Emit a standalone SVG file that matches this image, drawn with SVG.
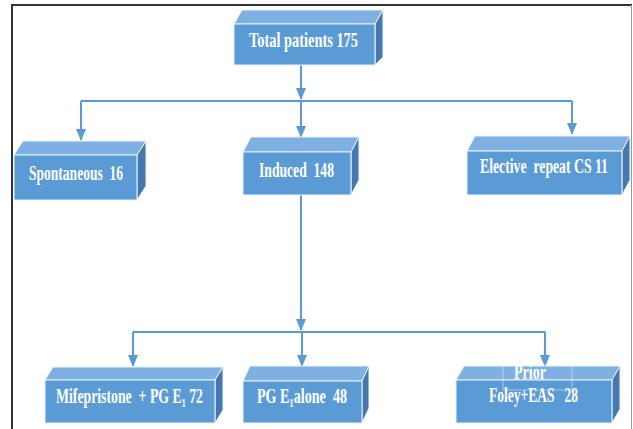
<svg xmlns="http://www.w3.org/2000/svg" width="633" height="429" viewBox="0 0 633 429">
<defs>
<style>
.front{fill:#5B9BD5;stroke:#EAF2FA;stroke-width:1}
.top{fill:#7EB1E1;stroke:#EAF2FA;stroke-width:1}
.side{fill:#4579AE;stroke:#EAF2FA;stroke-width:1}
.lbl{font-family:"Liberation Serif","Times New Roman",serif;font-weight:bold;font-size:21px;fill:#fff;white-space:pre}
.con{stroke:#5B9BD5;stroke-width:2;fill:none}
</style>
<marker id="arr" markerUnits="userSpaceOnUse" markerWidth="12" markerHeight="12" viewBox="0 0 12 12" refX="11" refY="6" orient="auto">
<path d="M0,1 L12,6 L0,11 Z" fill="#5B9BD5"/>
</marker>
</defs>
<rect width="633" height="429" fill="#fff"/>
<path d="M12,429 V5 H632" fill="none" stroke="#333" stroke-width="2"/>
<path d="M631.5,5 V429" fill="none" stroke="#999" stroke-width="1"/>

<g id="connectors">
<path class="con" d="M301,65 V99" marker-end="url(#arr)"/>
<path class="con" d="M81,101 H572"/>
<path class="con" d="M81,101 V140" marker-end="url(#arr)"/>
<path class="con" d="M301,101 V137" marker-end="url(#arr)"/>
<path class="con" d="M572,101 V134" marker-end="url(#arr)"/>
<path class="con" d="M301,195 V330" marker-end="url(#arr)"/>
<path class="con" d="M133,332 H545"/>
<path class="con" d="M133,332 V366" marker-end="url(#arr)"/>
<path class="con" d="M302,332 V366" marker-end="url(#arr)"/>
<path class="con" d="M545,332 V366" marker-end="url(#arr)"/>
</g>

<g id="total">
<polygon class="top" points="234,24 375,24 383,10 242,10"/>
<polygon class="side" points="375,24 383,10 383,57 375,65"/>
<rect class="front" x="234" y="24" width="141" height="41"/>
<text class="lbl" x="249" y="47" textLength="109" lengthAdjust="spacingAndGlyphs">Total patients 175</text>
</g>

<g id="spontaneous">
<polygon class="top" points="14,155 137,155 146,141 23,141"/>
<polygon class="side" points="137,155 146,141 146,186 137,200"/>
<rect class="front" x="14" y="155" width="123" height="45"/>
<text class="lbl" x="29" y="180" textLength="94" lengthAdjust="spacingAndGlyphs">Spontaneous  16</text>
</g>

<g id="induced">
<polygon class="top" points="243,152 351,152 359,137 251,137"/>
<polygon class="side" points="351,152 359,137 359,180 351,195"/>
<rect class="front" x="243" y="152" width="108" height="43"/>
<text class="lbl" x="259" y="177" textLength="75" lengthAdjust="spacingAndGlyphs">Induced  148</text>
</g>

<g id="elective">
<polygon class="top" points="467,151 622,151 630,136 475,136"/>
<polygon class="side" points="622,151 630,136 630,180 622,195"/>
<rect class="front" x="467" y="151" width="155" height="44"/>
<text class="lbl" x="480" y="173" textLength="128" lengthAdjust="spacingAndGlyphs">Elective  repeat CS 11</text>
</g>

<g id="mifepristone">
<polygon class="top" points="45,380 215,380 223,367 53,367"/>
<polygon class="side" points="215,380 223,367 223,410 215,423"/>
<rect class="front" x="45" y="380" width="170" height="43"/>
<text class="lbl" x="56" y="403" textLength="147" lengthAdjust="spacingAndGlyphs">Mifepristone  + PG E₁ 72</text>
</g>

<g id="pge1">
<polygon class="top" points="243,381 362,381 369,366 250,366"/>
<polygon class="side" points="362,381 369,366 369,408 362,423"/>
<rect class="front" x="243" y="381" width="119" height="42"/>
<text class="lbl" x="257" y="403" textLength="90" lengthAdjust="spacingAndGlyphs">PG E₁alone  48</text>
</g>

<g id="foley">
<polygon class="top" points="456,380 612,380 620,366 464,366"/>
<polygon class="side" points="612,380 620,366 620,409 612,423"/>
<rect class="front" x="456" y="380" width="156" height="43"/>
<rect x="503" y="365" width="69" height="25" fill="none" stroke="#fff" stroke-opacity="0.45" stroke-width="1"/>
<text class="lbl" x="514" y="379" textLength="32" lengthAdjust="spacingAndGlyphs">Prior</text>
<text class="lbl" x="489" y="402" textLength="89" lengthAdjust="spacingAndGlyphs">Foley+EAS   28</text>
</g>
</svg>
